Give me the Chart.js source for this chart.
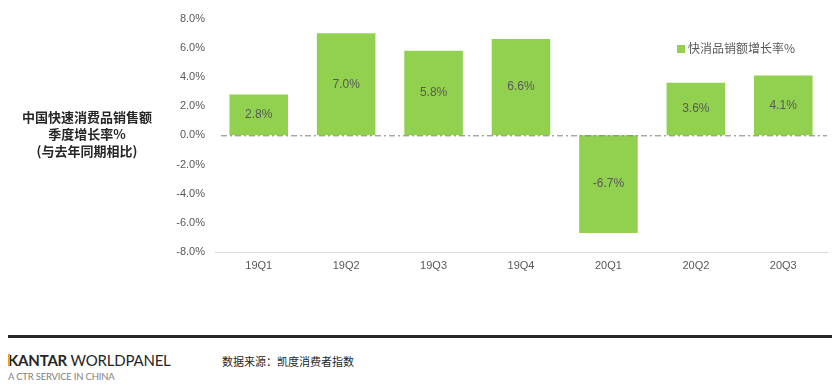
<!DOCTYPE html>
<html lang="zh">
<head>
    <meta charset="UTF-8">
    <title>中国快速消费品销售额季度增长率</title>
    <script src="https://cdn.jsdelivr.net/npm/chart.js"></script>
    <style>
        body { margin: 0; width: 832px; height: 386px; background: #fff; position: relative; overflow: hidden; font-family: "Liberation Sans", Arial, sans-serif; }
        #wrap { position: absolute; left: 150px; top: 2px; width: 682px; height: 276px; }
        #ytitle { position: absolute; left: 0; top: 108px; width: 174px; text-align: center; font: bold 13px/17px "Noto Sans CJK SC", sans-serif; color: #262626; }
        #legend { position: absolute; left: 677px; top: 39px; font: 12px "Noto Sans CJK SC", sans-serif; color: #595959; }
        #legend span { display: inline-block; width: 8px; height: 8px; background: #92D050; margin-right: 3px; vertical-align: 0px; }
        #rule { position: absolute; left: 8px; top: 335px; width: 824px; height: 3px; background: #262626; }
        #brand { position: absolute; left: 8px; top: 351px; font: 15px/18px "Lato", "Open Sans", sans-serif; color: #262626; letter-spacing: -0.2px; }
        #brand b { font-weight: bold; }
        #brand i { position: absolute; left: 0; top: 3px; width: 2px; height: 12px; background: #E8A317; }
        #tag { position: absolute; left: 8px; top: 371px; font: 9.5px "Lato", sans-serif; color: #7f7f7f; letter-spacing: -0.2px; }
        #source { position: absolute; left: 222px; top: 353px; font: 11px "Noto Sans CJK SC", sans-serif; color: #262626; }
    </style>
</head>
<body>
    <div id="wrap"><canvas id="growthChart"></canvas></div>
    <div id="ytitle">中国快速消费品销售额<br>季度增长率%<br>(与去年同期相比)</div>
    <div id="legend"></div>
    <div id="rule"></div>
    <div id="brand"><i></i><b>KANTAR</b> WORLDPANEL</div>
    <div id="tag">A CTR SERVICE IN CHINA</div>
    <div id="source">数据来源：凯度消费者指数</div>
    <script>
        // quarters and growth values (%)
        const quarters = ['19Q1', '19Q2', '19Q3', '19Q4', '20Q1', '20Q2', '20Q3'];
        const growth = [2.8, 7.0, 5.8, 6.6, -6.7, 3.6, 4.1];
        const seriesName = '快消品销额增长率%';
        const barColor = '#92D050';

        document.getElementById('legend').innerHTML = '<span></span>' + seriesName;

        // dash-dot line at zero + value labels inside bars
        const extras = {
            id: 'extras',
            afterDatasetsDraw(chart) {
                const ctx = chart.ctx;
                const y0 = chart.scales.y.getPixelForValue(0);
                ctx.save();
                ctx.strokeStyle = '#7f7f7f';
                ctx.lineWidth = 1;
                ctx.setLineDash([6, 3, 2, 3]);
                ctx.beginPath();
                ctx.moveTo(chart.chartArea.left + 6, y0 + 0.5);
                ctx.lineTo(chart.chartArea.right, y0 + 0.5);
                ctx.stroke();
                ctx.setLineDash([]);

                ctx.fillStyle = '#595959';
                ctx.font = '12px "Liberation Sans", Arial, sans-serif';
                ctx.textAlign = 'center';
                ctx.textBaseline = 'middle';
                chart.getDatasetMeta(0).data.forEach((bar, i) => {
                    ctx.fillText(growth[i].toFixed(1) + '%', bar.x, (bar.y + bar.base) / 2);
                });
                ctx.restore();
            }
        };

        new Chart(document.getElementById('growthChart'), {
            type: 'bar',
            data: {
                labels: quarters,
                datasets: [{
                    label: seriesName,
                    data: growth,
                    backgroundColor: barColor,
                    categoryPercentage: 0.67,
                    barPercentage: 1
                }]
            },
            options: {
                responsive: true,
                maintainAspectRatio: false,
                animation: false,
                layout: { padding: { top: 12, right: 5, bottom: 0, left: 0 } },
                plugins: {
                    legend: { display: false },
                    tooltip: { enabled: false }
                },
                scales: {
                    x: {
                        grid: { display: false, drawTicks: false },
                        border: { display: true, color: '#d9d9d9' },
                        ticks: { color: '#595959', font: { size: 11, family: '"Liberation Sans", Arial' }, padding: 7 },
                        afterFit: (s) => { s.height = 26; }
                    },
                    y: {
                        min: -8,
                        max: 8,
                        grid: { display: false, drawTicks: false },
                        border: { display: false },
                        ticks: {
                            stepSize: 2,
                            color: '#595959',
                            font: { size: 11, family: '"Liberation Sans", Arial' },
                            padding: 10,
                            callback: (v) => v.toFixed(1) + '%'
                        },
                        afterFit: (s) => { s.width = 65; }
                    }
                }
            },
            plugins: [extras]
        });
    </script>
</body>
</html>
